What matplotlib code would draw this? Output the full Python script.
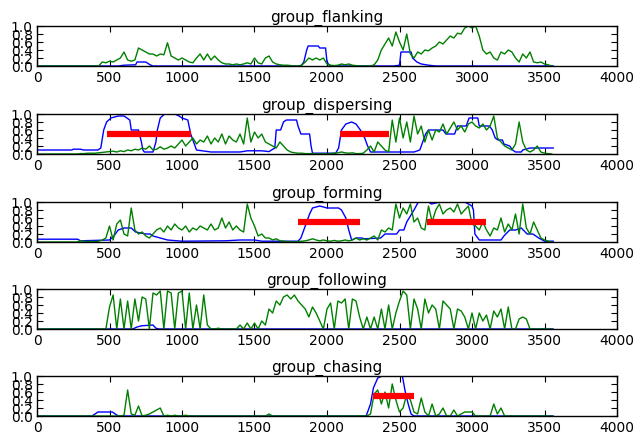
import numpy as np
import matplotlib
matplotlib.use("Agg")
import matplotlib.pyplot as plt

titles = ["group_flanking", "group_dispersing", "group_forming", "group_following", "group_chasing"]
step = 25  # frames between green samples

# ---------- green series (sampled every 25 frames, 0 .. 3550) ----------
green_flanking = [
    0, 0, 0, 0, 0, 0, 0, 0, 0, 0,
    0, 0, 0, 0, 0, 0, 0, 0, 0.1, 0.08,
    0.12, 0.1, 0.15, 0.2, 0.35, 0.15, 0.12, 0.15, 0.45, 0.4,
    0.35, 0.3, 0.3, 0.25, 0.3, 0.28, 0.58, 0.25, 0.2, 0.15,
    0.2, 0.15, 0.1, 0.08, 0.2, 0.3, 0.15, 0.3, 0.15, 0.25,
    0.15, 0.08, 0.05, 0.05, 0.03, 0.05, 0.03, 0.05, 0.08, 0.05,
    0.2, 0.08, 0.05, 0.2, 0.25, 0.1, 0.05, 0.03, 0.02, 0.02,
    0.01, 0, 0, 0.02, 0.1, 0.2, 0.15, 0.2, 0.15, 0.2,
    0.05, 0.02, 0.01, 0.02, 0.05, 0.03, 0.05, 0.02, 0.01, 0,
    0, 0, 0, 0.03, 0.15, 0.4, 0.55, 0.7, 0.5, 0.85,
    0.6, 0.4, 0.8, 0.3, 0.2, 0.35, 0.3, 0.4, 0.38, 0.45,
    0.5, 0.6, 0.55, 0.65, 0.75, 0.7, 0.82, 0.8, 0.95, 1.0,
    0.95, 1.0, 0.75, 0.4, 0.3, 0.35, 0.2, 0.15, 0.35, 0.3,
    0.4, 0.35, 0.2, 0.1, 0.3, 0.2, 0.35, 0.1, 0.08, 0.1,
    0.05, 0.03, 0.0,
]
green_dispersing = [
    0, 0, 0, 0, 0, 0, 0, 0, 0, 0,
    0, 0, 0.01, 0.01, 0.02, 0.02, 0.02, 0.03, 0.04, 0.05,
    0.06, 0.07, 0.05, 0.08, 0.06, 0.1, 0.08, 0.12, 0.1, 0.15,
    0.12, 0.2, 0.1, 0.12, 0.18, 0.12, 0.15, 0.2, 0.15, 0.25,
    0.35, 0.2, 0.3, 0.4, 0.25, 0.35, 0.3, 0.45, 0.25, 0.4,
    0.3, 0.5, 0.25, 0.45, 0.35, 0.3, 0.5, 0.25, 0.9, 0.3,
    0.55, 0.4, 0.5, 0.3, 0.25, 0.2, 0.15, 0.3, 0.2, 0.1,
    0.05, 0.03, 0.02, 0.02, 0.01, 0.01, 0.01, 0.0, 0.0, 0.01,
    0.0, 0.01, 0.02, 0.03, 0.05, 0.03, 0.02, 0.03, 0.01, 0.01,
    0.02, 0.1, 0.2, 0.05, 0.3, 0.2, 0.1, 0.05, 0.85, 0.3,
    0.9, 0.4, 0.8, 0.3, 0.95, 0.5, 0.7, 0.3, 0.6, 0.35,
    0.6, 0.55, 0.75, 0.5, 0.65, 0.8, 0.6, 0.7, 0.55, 0.75,
    0.8, 0.7, 0.65, 0.75, 0.6, 0.7, 0.95, 0.4, 0.3, 0.2,
    0.15, 0.1, 0.25, 0.8, 0.3, 0.1, 0.05, 0.1, 0.2, 0.05,
    0.02, 0.01, 0.0,
]
green_forming = [
    0, 0, 0, 0, 0, 0, 0, 0, 0, 0,
    0, 0, 0.03, 0.02, 0.01, 0.02, 0.01, 0.02, 0.05, 0.1,
    0.4, 0.05, 0.45, 0.55, 0.2, 0.15, 0.85, 0.3, 0.2, 0.25,
    0.15, 0.1, 0.2, 0.3, 0.35, 0.25, 0.4, 0.3, 0.45, 0.35,
    0.3, 0.4, 0.25, 0.35, 0.3, 0.4, 0.35, 0.3, 0.45, 0.3,
    0.35, 0.6, 0.35, 0.5, 0.3, 0.4, 0.3, 0.25, 0.95, 0.6,
    0.4, 0.15, 0.2, 0.1, 0.1, 0.05, 0.08, 0.03, 0.02, 0.01,
    0.01, 0.0, 0.01, 0.02, 0.03, 0.05, 0.08, 0.05, 0.03, 0.05,
    0.03, 0.02, 0.04, 0.02, 0.03, 0.05, 0.03, 0.05, 0.1, 0.05,
    0.08, 0.05, 0.1, 0.15, 0.05, 0.3, 0.25, 0.35, 0.3, 0.95,
    0.6, 0.85, 0.7, 0.95, 0.5, 0.6, 0.35, 0.3, 0.9, 0.5,
    0.8, 0.95, 0.7, 0.8, 0.85, 0.75, 0.95, 0.7, 0.8, 0.9,
    0.45, 0.4, 0.3, 0.5, 0.3, 0.15, 0.35, 0.3, 0.6, 0.25,
    0.45, 0.3, 0.7, 0.2, 0.95, 0.35, 0.2, 0.5, 0.3, 0.1,
    0.05, 0.02, 0.0,
]
green_following = [
    0, 0, 0, 0, 0, 0, 0, 0, 0, 0,
    0, 0, 0, 0, 0, 0, 0, 0, 0, 0.0,
    0.55, 0.85, 0.0, 0.75, 0.0, 0.7, 0.0, 0.75, 0.2, 0.8,
    0.75, 0.0, 0.9, 0.85, 0.95, 0.0, 0.95, 0.9, 0.0, 0.9,
    0.95, 0.0, 0.9, 0.0, 0.6, 0.0, 0.85, 0.1, 0.0, 0.0,
    0.02, 0.0, 0.0, 0.0, 0.0, 0.0, 0.1, 0.0, 0.15, 0.0,
    0.15, 0.0, 0.2, 0.1, 0.5, 0.4, 0.7, 0.6, 0.8, 0.85,
    0.75, 0.85, 0.7, 0.6, 0.5, 0.3, 0.55, 0.4, 0.2, 0.0,
    0.5, 0.65, 0.0, 0.7, 0.65, 0.75, 0.0, 0.75, 0.7, 0.3,
    0.0, 0.3, 0.0, 0.3, 0.0, 0.5, 0.0, 0.6, 0.0, 0.4,
    0.7, 0.95, 0.85, 0.0, 0.75, 0.5, 0.0, 0.75, 0.4, 0.6,
    0.5, 0.0, 0.7, 0.6, 0.5, 0.0, 0.5, 0.45, 0.3, 0.0,
    0.4, 0.0, 0.4, 0.2, 0.35, 0.0, 0.45, 0.3, 0.5, 0.0,
    0.55, 0.0, 0.0, 0.25, 0.3, 0.25, 0.0, 0.0, 0.0, 0.0,
    0, 0, 0,
]
green_chasing = [
    0, 0, 0, 0, 0, 0, 0, 0, 0, 0,
    0, 0, 0, 0, 0, 0, 0, 0, 0, 0,
    0, 0, 0, 0, 0.02, 0.65, 0.05, 0.02, 0.25, 0.0,
    0.02, 0.05, 0.1, 0.15, 0.2, 0.0, 0.02, 0.0, 0.02, 0.0,
    0.0, 0.02, 0, 0, 0, 0, 0, 0, 0, 0,
    0, 0, 0, 0, 0, 0, 0, 0, 0, 0,
    0, 0, 0, 0, 0.05, 0, 0, 0, 0, 0,
    0, 0, 0, 0, 0, 0, 0, 0, 0, 0,
    0, 0, 0, 0, 0, 0, 0, 0, 0, 0,
    0, 0, 0.05, 0.55, 0.65, 0.3, 0.6, 0.2, 0.8, 0.4,
    0.1, 0.2, 0.55, 0.4, 0.1, 0.05, 0.45, 0.1, 0.0, 0.3,
    0.0, 0.05, 0.2, 0.0, 0.0, 0.15, 0.0, 0.05, 0.1, 0.1,
    0.1, 0.0, 0.0, 0.0, 0.0, 0.0, 0.3, 0.05, 0.2, 0.0,
    0, 0, 0, 0, 0, 0, 0, 0, 0, 0,
    0, 0, 0,
]

# ---------- blue series (breakpoints: frame, value) ----------
blue_flanking_x = [0, 560, 600, 680, 690, 750, 780, 800, 1820, 1840, 1860, 1870, 1940, 1950, 1990, 2000, 2020,
                   2460, 2500, 2510, 2580, 2590, 2620, 2650, 2700, 2750, 3560]
blue_flanking_y = [0, 0, 0.02, 0.03, 0.1, 0.1, 0.03, 0, 0, 0.1, 0.4, 0.5, 0.5, 0.45, 0.45, 0.1, 0,
                   0, 0.02, 0.35, 0.35, 0.2, 0.1, 0.05, 0.02, 0, 0]
blue_dispersing_x = [0, 240, 250, 300, 320, 420, 440, 460, 480, 510, 560, 600, 620, 640, 650, 700, 720, 730, 740,
                     800, 820, 830, 850, 880, 950, 980, 1000, 1040, 1060, 1080, 1100, 1200, 1400, 1450, 1550,
                     1600, 1640, 1650, 1680, 1700, 1720, 1790, 1800, 1820, 1880, 1890, 1900, 2060, 2080, 2100,
                     2130, 2170, 2200, 2230, 2260, 2280, 2300, 2600, 2640, 2680, 2700, 2800, 2820, 2880, 2900,
                     2960, 2980, 3040, 3050, 3120, 3140, 3160, 3180, 3210, 3220, 3260, 3280, 3300, 3340, 3350,
                     3400, 3560]
blue_dispersing_y = [0.1, 0.1, 0.12, 0.12, 0.1, 0.1, 0.15, 0.6, 0.8, 0.9, 0.95, 0.95, 0.9, 0.85, 0.6, 0.6, 0.3,
                     0.1, 0.05, 0.05, 0.3, 0.6, 0.9, 1.0, 1.0, 0.95, 0.9, 0.85, 0.5, 0.3, 0.1, 0.05, 0.05,
                     0.08, 0.08, 0.06, 0.15, 0.6, 0.6, 0.8, 0.85, 0.85, 0.7, 0.5, 0.5, 0.2, 0.02, 0.02, 0.15,
                     0.6, 0.75, 0.8, 0.75, 0.6, 0.4, 0.2, 0.05, 0.05, 0.1, 0.5, 0.6, 0.6, 0.5, 0.5, 0.7, 0.7,
                     0.9, 0.9, 0.7, 0.7, 0.6, 0.4, 0.35, 0.35, 0.25, 0.2, 0.1, 0.05, 0.05, 0.1, 0.15, 0.15]
blue_forming_x = [0, 280, 300, 500, 530, 560, 600, 650, 680, 750, 780, 800, 850, 900, 1000, 1300, 1400, 1500,
                  1550, 1800, 1820, 1850, 1880, 1900, 1950, 2000, 2080, 2100, 2130, 2150, 2170, 2200, 2240,
                  2260, 2370, 2400, 2480, 2500, 2530, 2550, 2600, 2630, 2700, 2720, 2780, 2950, 3000, 3010,
                  3020, 3050, 3200, 3220, 3260, 3300, 3340, 3380, 3420, 3460, 3500, 3560]
blue_forming_y = [0.07, 0.07, 0.03, 0.05, 0.15, 0.3, 0.35, 0.35, 0.25, 0.2, 0.2, 0.15, 0.1, 0.05, 0.02, 0.03,
                  0.05, 0.05, 0.02, 0.02, 0.1, 0.4, 0.7, 0.85, 0.9, 0.85, 0.85, 0.8, 0.6, 0.3, 0.05, 0.1, 0.1,
                  0.08, 0.1, 0.2, 0.2, 0.3, 0.3, 0.5, 0.8, 1.0, 1.0, 0.95, 1.0, 1.0, 0.9, 0.8, 0.2, 0.05,
                  0.05, 0.15, 0.3, 0.3, 0.35, 0.2, 0.2, 0.1, 0.02, 0.02]
blue_following_x = [0, 660, 690, 720, 800, 820, 840, 3560]
blue_following_y = [0, 0, 0.05, 0.08, 0.1, 0.02, 0, 0]
blue_chasing_x = [0, 380, 400, 420, 520, 540, 560, 2270, 2300, 2320, 2350, 2380, 2400, 2500, 2520, 2540, 2560,
                  2580, 2600, 3560]
blue_chasing_y = [0, 0, 0.05, 0.1, 0.1, 0.05, 0, 0, 0.3, 0.7, 0.95, 1.0, 1.1, 1.1, 1.0, 0.6, 0.3, 0.05, 0, 0]

# ---------- red annotated intervals (start, end) at value 0.5 ----------
red_level = 0.5
red_flanking = []
red_dispersing = [(480, 1060), (2090, 2430)]
red_forming = [(1800, 2230), (2690, 3100)]
red_following = []
red_chasing = [(2320, 2600)]

greens = [green_flanking, green_dispersing, green_forming, green_following, green_chasing]
blues = [(blue_flanking_x, blue_flanking_y), (blue_dispersing_x, blue_dispersing_y),
         (blue_forming_x, blue_forming_y), (blue_following_x, blue_following_y),
         (blue_chasing_x, blue_chasing_y)]
reds = [red_flanking, red_dispersing, red_forming, red_following, red_chasing]

xticks = [0, 500, 1000, 1500, 2000, 2500, 3000, 3500, 4000]
yticks = [0.0, 0.2, 0.4, 0.6, 0.8, 1.0]

W, H = 637, 435
fig = plt.figure(figsize=(W / 100, H / 100), dpi=100, facecolor="white")
plt.rcParams["font.family"] = "DejaVu Sans"

left_px, right_px = 37, 617
bottoms_px = [67, 155, 243, 330, 417]
height_px = 40

for i in range(5):
    ax = fig.add_axes([left_px / W, 1 - bottoms_px[i] / H, (right_px - left_px) / W, height_px / H])
    bx, by = blues[i]
    ax.plot(bx, by, color="blue", lw=1.0)
    g = greens[i]
    gx = np.arange(len(g)) * step
    ax.plot(gx, g, color="green", lw=1.0)
    for (s, e) in reds[i]:
        ax.plot([s, e], [red_level, red_level], color="red", lw=4.5, solid_capstyle="butt")
    ax.set_xlim(0, 4000)
    ax.set_ylim(0, 1.0)
    ax.set_xticks(xticks)
    ax.set_yticks(yticks)
    ax.set_yticklabels([f"{v:.1f}" for v in yticks])
    ax.tick_params(direction="in", top=True, right=True, labelsize=10, length=4, pad=3)
    ax.set_title(titles[i], fontsize=11, pad=4)
    for sp in ax.spines.values():
        sp.set_linewidth(1.0)

fig.savefig("out.png", dpi=100, facecolor="white")
